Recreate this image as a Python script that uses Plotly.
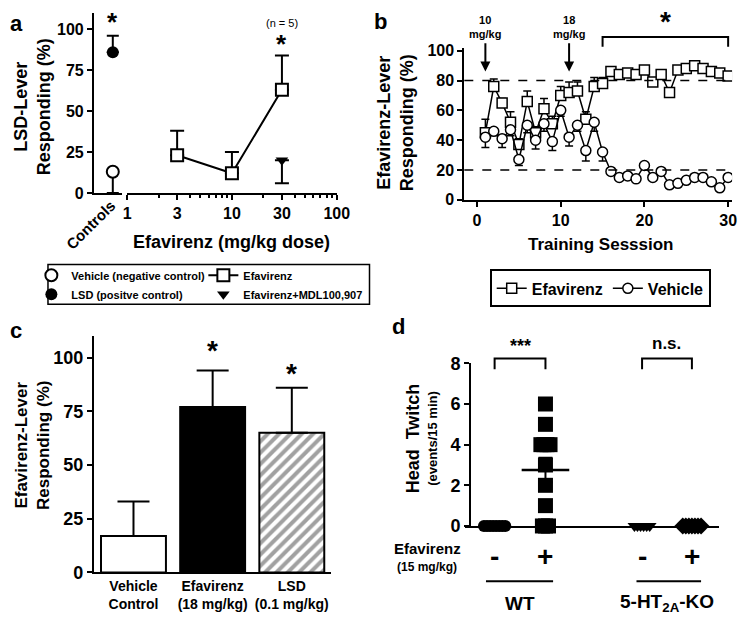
import plotly.graph_objects as go

W, H = 748, 626
FONT = 'Liberation Sans, Arial, sans-serif'


def px(x):
    return x / W


def py(y):
    return 1 - y / H


# ---- panel a: LSD substitution ----
a_vehicle = [13]
a_vehicle_err = [13]
a_lsd = [86]
a_lsd_err = [10]
a_doses = [3, 10, 30]
a_efav = [23, 12, 63]
a_efav_err = [15, 13, 21]
a_mdl_dose = [30]
a_mdl = [20]
a_mdl_err = [14]

# ---- panel b: training sessions ----
b_sessions = list(range(1, 31))
b_efav = [45, 76, 65, 52, 37, 66, 45, 61, 51, 70, 72, 73, 54, 76, 78,
          86, 84, 85, 84, 87, 79, 84, 72, 87, 88, 90, 88, 86, 85, 83]
b_efav_err = [9, 5, 3, 7, 4, 7, 4, 7, 5, 6, 7, 6, 5, 6, 4,
              2, 2, 2, 2, 2, 2, 2, 2, 2, 2, 2, 2, 2, 2, 2]
b_vehicle = [42, 46, 41, 47, 27, 50, 40, 51, 39, 60, 42, 50, 33, 52, 32,
             19, 15, 16, 14, 23, 15, 19, 10, 11, 13, 15, 15, 12, 8, 15]
b_vehicle_err = [7, 3, 6, 4, 4, 5, 6, 5, 6, 4, 6, 4, 7, 6, 6,
                 2, 2, 2, 2, 2, 2, 2, 2, 2, 2, 2, 2, 2, 2, 2]

# ---- panel c: bars ----
c_groups = ['Vehicle<br>Control', 'Efavirenz<br>(18 mg/kg)', 'LSD<br>(0.1 mg/kg)']
c_values = [17, 77, 65]
c_err = [16, 17, 21]

# ---- panel d: head twitch ----
d_wt_veh = [0, 0, 0, 0, 0, 0, 0, 0]
d_wt_efav = [0, 0, 0, 1, 2, 3, 4, 4, 4, 4, 5, 6]
d_ko_veh = [0, 0, 0, 0, 0, 0]
d_ko_efav = [0, 0, 0, 0, 0, 0, 0]
d_pos = [1, 2, 3.9, 4.88]


def swarm(values, center, step=0.06):
    counts = {}
    for v in values:
        counts[v] = counts.get(v, 0) + 1
    seen = {}
    xs = []
    for v in values:
        k = counts[v]
        i = seen.get(v, 0)
        seen[v] = i + 1
        xs.append(center + (i - (k - 1) / 2) * step)
    return xs


def mean_sem(vals):
    n = len(vals)
    m = sum(vals) / n
    sd = (sum((v - m) ** 2 for v in vals) / (n - 1)) ** 0.5
    return m, sd / n ** 0.5


fig = go.Figure()

# panel a traces
fig.add_trace(go.Scatter(
    x=[1], y=a_vehicle, mode='markers', name='Vehicle (negative control)',
    marker=dict(symbol='circle', size=12, color='white', line=dict(color='black', width=2)),
    error_y=dict(type='data', symmetric=False, array=[0], arrayminus=a_vehicle_err,
                 color='black', thickness=2, width=6),
    xaxis='x', yaxis='y', legend='legend', cliponaxis=False))
fig.add_trace(go.Scatter(
    x=[1], y=a_lsd, mode='markers', name='LSD (positve control)',
    marker=dict(symbol='circle', size=12, color='black'),
    error_y=dict(type='data', symmetric=False, array=a_lsd_err, arrayminus=[0],
                 color='black', thickness=2, width=6),
    xaxis='x', yaxis='y', legend='legend'))
fig.add_trace(go.Scatter(
    x=a_doses, y=a_efav, mode='lines+markers', name='Efavirenz',
    line=dict(color='black', width=2),
    marker=dict(symbol='square', size=12, color='white', line=dict(color='black', width=2)),
    error_y=dict(type='data', symmetric=False, array=a_efav_err, arrayminus=[0, 0, 0],
                 color='black', thickness=2, width=7),
    xaxis='x2', yaxis='y', legend='legend3'))
fig.add_trace(go.Scatter(
    x=a_mdl_dose, y=a_mdl, mode='markers', name='Efavirenz+MDL100,907',
    marker=dict(symbol='triangle-down', size=11, color='black'),
    error_y=dict(type='data', symmetric=False, array=[0], arrayminus=a_mdl_err,
                 color='black', thickness=2, width=7),
    xaxis='x2', yaxis='y', legend='legend3'))

# panel b traces
fig.add_trace(go.Scatter(
    x=b_sessions, y=b_efav, mode='lines+markers', name='Efavirenz',
    line=dict(color='black', width=1.5),
    marker=dict(symbol='square', size=10, color='white', line=dict(color='black', width=1.5)),
    error_y=dict(type='data', symmetric=False, array=b_efav_err, arrayminus=[0] * 30,
                 color='black', thickness=1.5, width=4),
    xaxis='x3', yaxis='y3', legend='legend2'))
fig.add_trace(go.Scatter(
    x=b_sessions, y=b_vehicle, mode='lines+markers', name='Vehicle',
    line=dict(color='black', width=1.5),
    marker=dict(symbol='circle', size=10, color='white', line=dict(color='black', width=1.5)),
    error_y=dict(type='data', symmetric=False, array=[0] * 30, arrayminus=b_vehicle_err,
                 color='black', thickness=1.5, width=4),
    xaxis='x3', yaxis='y3', legend='legend2'))

# panel c bars
fig.add_trace(go.Bar(
    x=c_groups, y=c_values, width=0.82, showlegend=False,
    marker=dict(color=['white', 'black', 'white'], line=dict(color='black', width=2),
                pattern=dict(shape=['', '', '/'], fgcolor='black', bgcolor='white',
                             size=8, solidity=0.5)),
    error_y=dict(type='data', symmetric=False, array=c_err, arrayminus=[0, 0, 0],
                 color='black', thickness=2, width=16),
    xaxis='x4', yaxis='y4'))

# panel d scatter
d_sets = [
    (d_wt_veh, d_pos[0], 'circle', 12),
    (d_wt_efav, d_pos[1], 'square', 15),
    (d_ko_veh, d_pos[2], 'triangle-down', 12),
    (d_ko_efav, d_pos[3], 'diamond', 13),
]
for vals, center, sym, size in d_sets:
    fig.add_trace(go.Scatter(
        x=swarm(vals, center), y=vals, mode='markers', showlegend=False,
        marker=dict(symbol=sym, size=size, color='black'),
        xaxis='x5', yaxis='y5', cliponaxis=False))
m, sem = mean_sem(d_wt_efav)
fig.add_trace(go.Scatter(
    x=[d_pos[1]], y=[m], mode='markers', showlegend=False,
    marker=dict(symbol='line-ew', size=34, line=dict(color='black', width=2.5)),
    error_y=dict(type='data', array=[sem], color='black', thickness=2, width=7),
    xaxis='x5', yaxis='y5'))

axis_common = dict(showline=True, linecolor='black', linewidth=2, ticks='outside',
                   ticklen=5, tickwidth=2, tickcolor='black', showgrid=False,
                   zeroline=False)


def tfont(size):
    return dict(family=FONT, size=size, color='black', weight='bold')


layout_axes = dict(
    xaxis=dict(domain=[px(92), px(121)], range=[0, 1.5], anchor='y',
               showticklabels=False, **{**axis_common, 'ticks': ''}),
    yaxis=dict(domain=[py(189), py(3)], range=[0, 110], anchor='x',
               tickvals=[0, 25, 50, 75, 100], tickfont=tfont(16), **axis_common),
    xaxis2=dict(domain=[px(126), px(341)], type='log', range=[0, 2.005], anchor='y',
                tickvals=[1, 3, 10, 30, 100], tickfont=tfont(16),
                minor=dict(ticks='outside', ticklen=3, tickwidth=1.5, tickcolor='black',
                           tickvals=[2, 4, 5, 6, 7, 8, 9, 20, 40, 50, 60, 70, 80, 90]),
                **axis_common),
    xaxis3=dict(domain=[px(471), px(745)], range=[-1.52, 30.47], anchor='y3',
                tickvals=[0, 10, 20, 30], tickfont=tfont(16), **axis_common),
    yaxis3=dict(domain=[py(196), py(39)], range=[0, 102], anchor='x3',
                tickvals=[0, 20, 40, 60, 80, 100], tickfont=tfont(16), **axis_common),
    xaxis4=dict(domain=[px(92), px(335)], range=[-0.5, 2.5], anchor='y4',
                tickfont=tfont(14), **{**axis_common, 'ticks': ''}),
    yaxis4=dict(domain=[py(581), py(337)], range=[0, 110], anchor='x4',
                tickvals=[0, 25, 50, 75, 100], tickfont=tfont(18), **axis_common),
    xaxis5=dict(domain=[px(472), px(732)], range=[0.423, 5.42], anchor='y5',
                showticklabels=False, **{**axis_common, 'ticks': ''}),
    yaxis5=dict(domain=[py(533), py(365)], range=[0, 8], anchor='free', position=px(477),
                tickvals=[0, 2, 4, 6, 8], tickfont=tfont(18), **axis_common),
)


def ann(text, x, y, size, xref='paper', yref='paper', bold=True, angle=0, **kw):
    return dict(text=text, x=x, y=y, xref=xref, yref=yref, showarrow=False,
                textangle=angle, xanchor='center', yanchor='middle',
                font=dict(family=FONT, size=size, color='black',
                          weight='bold' if bold else 'normal'), **kw)


annotations = [
    ann('a', px(13), py(14), 22),
    ann('b', px(385), py(12), 22),
    ann('c', px(12), py(331), 22),
    ann('d', px(404), py(327), 22),
    # panel a
    ann('LSD-Lever<br>Responding (%)', px(29), py(100), 18, angle=-90),
    ann('Controls', px(89), py(222), 15, angle=-45),
    ann('Efavirenz (mg/kg dose)', px(233), py(240), 18),
    ann('(n = 5)', 1.4771, py(13), 11, xref='x2', bold=False),
    ann('*', 1, py(12), 26, xref='x'),
    ann('*', 1.4771, py(35), 26, xref='x2'),
    # panel b
    ann('Efavirenz-Lever<br>Responding (%)', px(400), py(116), 18, angle=-90),
    ann('Training Sesssion', px(611), py(242), 17),
    ann('10<br>mg/kg', 1, py(18), 11, xref='x3'),
    ann('18<br>mg/kg', 11, py(18), 11, xref='x3'),
    ann('*', 22.5, py(12), 28, xref='x3'),
    dict(x=1, y=86, ax=1, ay=106, xref='x3', yref='y3', axref='x3', ayref='y3',
         text='', showarrow=True, arrowhead=2, arrowsize=1, arrowwidth=2,
         arrowcolor='black'),
    dict(x=11, y=86, ax=11, ay=106, xref='x3', yref='y3', axref='x3', ayref='y3',
         text='', showarrow=True, arrowhead=2, arrowsize=1, arrowwidth=2,
         arrowcolor='black'),
    # panel c
    ann('Efavirenz-Lever<br>Responding (%)', px(29), py(450), 17, angle=-90),
    ann('*', 1, py(352), 28, xref='x4'),
    ann('*', 2, py(375), 28, xref='x4'),
    # panel d
    ann('Head  Twitch', px(418), py(443), 18, angle=-90),
    ann('(events/15 min)', px(439), py(443), 13, angle=-90),
    ann('***', 1.5, py(347), 18, xref='x5'),
    ann('n.s.', 4.39, py(345), 17, xref='x5'),
    ann('Efavirenz', px(433), py(556), 15),
    ann('(15 mg/kg)', px(433), py(575), 12),
    ann('WT', 1.5, py(613), 19, xref='x5'),
    ann('5-HT<sub>2A</sub>-KO', 4.39, py(613), 19, xref='x5'),
]
for xp, sign in zip(d_pos, ['-', '+', '-', '+']):
    annotations.append(ann(sign, xp, py(565), 28, xref='x5'))

shapes = [
    # legend box panel a
    dict(type='rect', xref='paper', yref='paper', x0=px(45), x1=px(374),
         y0=py(304), y1=py(263), line=dict(color='black', width=1.5)),
    # dashed criteria lines panel b
    dict(type='line', xref='x3 domain', yref='y3', x0=0, x1=1, y0=80, y1=80,
         line=dict(color='black', width=1.5, dash='dash')),
    dict(type='line', xref='x3 domain', yref='y3', x0=0, x1=1, y0=20, y1=20,
         line=dict(color='black', width=1.5, dash='dash')),
    # bracket panel b
    dict(type='path', xref='x3', yref='paper',
         path=f'M 15,{py(38)} L 15,{py(28)} L 30,{py(28)} L 30,{py(38)}',
         line=dict(color='black', width=2)),
    # brackets panel d
    dict(type='path', xref='x5', yref='paper',
         path=f'M {d_pos[0]},{py(371)} L {d_pos[0]},{py(360)} L {d_pos[1]},{py(360)} L {d_pos[1]},{py(371)}',
         line=dict(color='black', width=2)),
    dict(type='path', xref='x5', yref='paper',
         path=f'M {d_pos[2]},{py(371)} L {d_pos[2]},{py(360)} L {d_pos[3]},{py(360)} L {d_pos[3]},{py(371)}',
         line=dict(color='black', width=2)),
    # group underlines panel d
    dict(type='line', xref='x5', yref='paper', x0=0.83, x1=2.15, y0=py(590), y1=py(590),
         line=dict(color='black', width=2)),
    dict(type='line', xref='x5', yref='paper', x0=3.79, x1=5.06, y0=py(590), y1=py(590),
         line=dict(color='black', width=2)),
]

legend_font = dict(family=FONT, size=11, color='black', weight='bold')
fig.update_layout(
    width=W, height=H, margin=dict(l=0, r=0, t=0, b=0),
    paper_bgcolor='white', plot_bgcolor='white',
    font=dict(family=FONT, color='black'),
    bargap=0.2,
    legend=dict(x=px(28), y=py(259), xanchor='left', yanchor='top',
                bgcolor='rgba(0,0,0,0)', font=legend_font, tracegroupgap=0),
    legend3=dict(x=px(204), y=py(259), xanchor='left', yanchor='top',
                 bgcolor='rgba(0,0,0,0)', font=legend_font, tracegroupgap=0),
    legend2=dict(x=px(497), y=py(268), xanchor='left', yanchor='top', orientation='h',
                 bgcolor='white', bordercolor='black', borderwidth=2,
                 font=dict(family=FONT, size=16, color='black', weight='bold')),
    annotations=annotations,
    shapes=shapes,
    **layout_axes,
)

fig.write_html("out.html", config={'displayModeBar': False},
               post_script="document.body.style.margin='0';")
